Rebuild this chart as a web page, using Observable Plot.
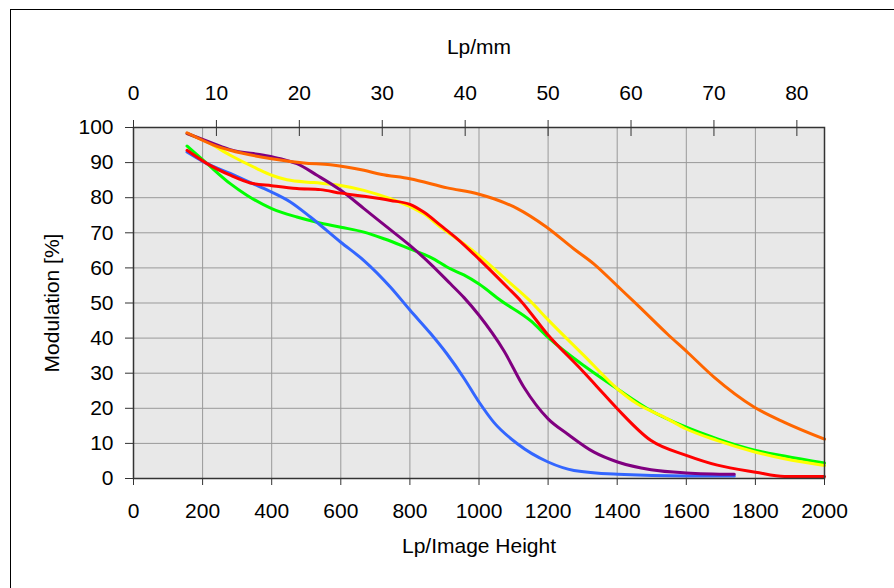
<!DOCTYPE html>
<html>
<head>
<meta charset="utf-8">
<script src="https://cdn.jsdelivr.net/npm/d3@7"></script>
<script src="https://cdn.jsdelivr.net/npm/@observablehq/plot@0.6"></script>
<style>
  html, body { margin: 0; padding: 0; background: #fff; }
  #wrap { position: relative; width: 894px; height: 588px; overflow: hidden; }
  #border { position: absolute; left: 10px; top: 9px; width: 900px; height: 600px;
            border-left: 1px solid #000; border-top: 1px solid #000; }
  #chart { position: absolute; left: 0; top: 0; }
</style>
</head>
<body>
<div id="wrap"><div id="border"></div><div id="chart"></div></div>
<script>
// Lp/Image Height ticks, modulation ticks, Lp/mm ticks
const xTicks = [0, 200, 400, 600, 800, 1000, 1200, 1400, 1600, 1800, 2000];
const yTicks = [0, 10, 20, 30, 40, 50, 60, 70, 80, 90, 100];
const mmTicks = [0, 10, 20, 30, 40, 50, 60, 70, 80];
const imageHeightMm = 24; // Lp/mm = (Lp/Image Height) / 24

// series: [Lp/Image Height, Modulation %]
const green = [[155,94.7],[213,89.7],[280,84],[328,80.7],[400,76.9],[473,74.5],[531,73],[600,71.6],[667,70.2],[725,68.3],[800,65.4],[860,63],[918,59.7],[956,58],[1000,55.4],[1063,50.7],[1150,44.9],[1200,40.2],[1304,32.1],[1401,25.5],[1498,19.3],[1600,14.6],[1690,11.3],[1801,8],[1884,6.4],[2000,4.4]];
const blue = [[155,93],[203,90.2],[280,86.9],[357,83.5],[400,81.6],[454,78.8],[512,74.5],[600,67.3],[667,62.1],[744,54.5],[800,48],[860,41.3],[908,35.4],[957,28.5],[1000,21.8],[1043,16],[1111,9.9],[1200,4.7],[1275,2.3],[1401,1.2],[1600,0.7],[1739,0.7]];
const yellow = [[155,98.3],[213,95.9],[280,92.1],[357,88.3],[400,86.4],[444,85.1],[522,84.3],[600,83.5],[667,82.1],[744,79.7],[800,77.5],[840,75.4],[889,71.6],[956,66.9],[1000,63.5],[1082,56.4],[1150,50.4],[1198,45.4],[1304,35],[1401,25.5],[1459,21.2],[1536,17.5],[1600,14.1],[1690,10.8],[1801,7.5],[1884,5.6],[2000,3.7]];
const purple = [[155,98.3],[232,95.4],[280,93.7],[377,92.1],[425,91.1],[473,89.7],[531,86.4],[600,82.1],[667,76.9],[734,71.6],[800,66.4],[860,61.1],[918,55.4],[956,51.6],[1000,46.5],[1072,36.4],[1130,26],[1200,17],[1256,12.7],[1333,7.5],[1401,4.7],[1498,2.5],[1600,1.6],[1739,1.2]];
const red = [[155,93.5],[213,89.7],[280,86.4],[338,84.2],[400,83.4],[473,82.6],[541,82.3],[600,81.3],[667,80.4],[744,79.2],[800,78.1],[840,75.9],[889,72.1],[937,68.3],[1000,62.5],[1082,54.5],[1121,50.6],[1198,41.1],[1304,30.2],[1343,26],[1401,19.8],[1498,10.8],[1600,6.6],[1690,3.8],[1801,1.8],[1884,0.6],[2000,0.6]];
const orange = [[155,98.5],[232,95],[280,93.5],[400,91.1],[493,89.9],[570,89.4],[667,87.8],[715,86.7],[800,85.4],[908,82.8],[1000,81],[1043,79.7],[1111,76.9],[1193,71.8],[1275,65.4],[1333,61.1],[1401,54.8],[1459,49.4],[1546,41.1],[1604,35.9],[1681,28.8],[1797,20.3],[1884,16],[2000,11.2]];

const seriesList = [
  {data: green, color: "#00ff00"},
  {data: blue, color: "#3366ff"},
  {data: yellow, color: "#ffff00"},
  {data: purple, color: "#800080"},
  {data: red, color: "#ff0000"},
  {data: orange, color: "#ff6600"}
];

const topTickValues = mmTicks.map(d => d * imageHeightMm);

const chart = Plot.plot({
  width: 894,
  height: 588,
  marginLeft: 133,
  marginRight: 70,
  marginTop: 127,
  marginBottom: 110,
  style: {fontFamily: "'Liberation Sans', Arial, sans-serif", fontSize: "21px", color: "#000", background: "transparent", overflow: "visible"},
  x: {domain: [0, 2000]},
  y: {domain: [0, 100]},
  marks: [
    Plot.frame({fill: "#e8e8e8", stroke: null}),
    Plot.gridX(xTicks, {stroke: "#999", strokeOpacity: 1, strokeWidth: 1}),
    Plot.gridY(yTicks, {stroke: "#999", strokeOpacity: 1, strokeWidth: 1}),
    ...seriesList.map(s => Plot.line(s.data, {x: d => d[0], y: d => d[1], stroke: s.color, strokeWidth: 3, curve: "monotone-x"})),
    Plot.frame({stroke: "#333", strokeWidth: 1.5}),
    Plot.axisX({anchor: "bottom", ticks: xTicks, tickSize: 7, tickPadding: 18, tickFormat: d => String(d), label: null, stroke: "#333", fill: "#000"}),
    Plot.axisX({anchor: "top", ticks: topTickValues, tickSize: 16, insetTop: 8, tickFormat: () => "", label: null, stroke: "#333"}),
    Plot.axisX({anchor: "top", ticks: topTickValues, tickSize: 8, tickPadding: 20, tickFormat: d => String(Math.round(d / imageHeightMm)), label: null, stroke: "none", fill: "#000"}),
    Plot.axisY({anchor: "left", ticks: yTicks, tickSize: 8, tickPadding: 12, label: null, stroke: "#333", fill: "#000"}),
    Plot.text(["Lp/Image Height"], {frameAnchor: "bottom", lineAnchor: "middle", dy: 68, fill: "#000"}),
    Plot.text(["Lp/mm"], {frameAnchor: "top", lineAnchor: "middle", dy: -80, fill: "#000"}),
    Plot.text(["Modulation [%]"], {frameAnchor: "left", textAnchor: "middle", lineAnchor: "middle", dx: -81, rotate: -90, fill: "#000"})
  ]
});
document.getElementById("chart").appendChild(chart);
</script>
</body>
</html>
